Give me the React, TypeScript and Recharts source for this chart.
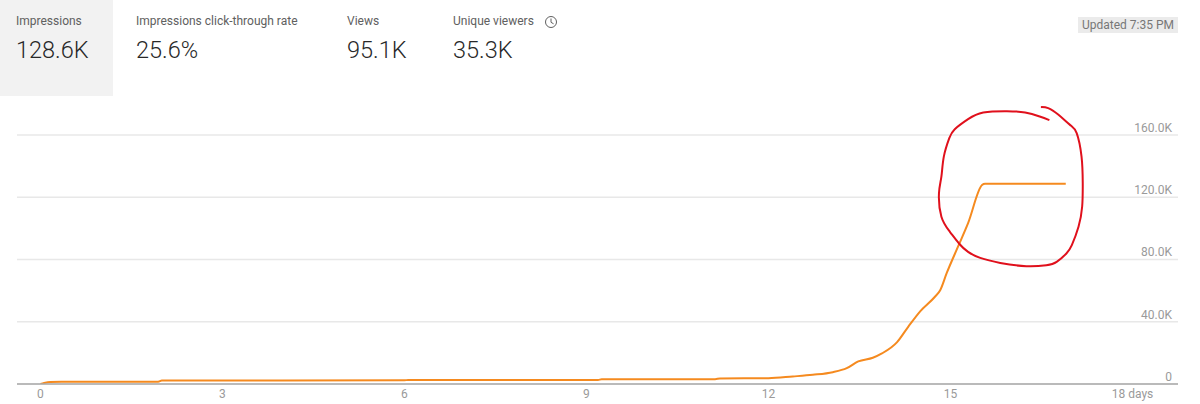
import React from "react";
import { LineChart, Line, XAxis, YAxis, CartesianGrid } from "recharts";

const days = [0, 0.06, 0.16, 0.35, 1.94, 2.0, 6.0, 6.06, 9.19, 9.25, 11.12, 11.2, 12, 12.4, 12.73, 13.06, 13.29, 13.48, 13.72, 13.87, 14.12, 14.3, 14.5, 14.74, 14.83, 14.94, 15.12, 15.29, 15.52, 15.57, 16.9];
const impressions = [0, 640, 1290, 1420, 1480, 2250, 2400, 2580, 2600, 3030, 3100, 3540, 3700, 4830, 5920, 7600, 10170, 14490, 16870, 19640, 26900, 36570, 46680, 55900, 60200, 71470, 87900, 103340, 127800, 128600, 128600];

const circleDays = [16.63, 16.47, 16.23, 15.93, 15.54, 15.29, 15.07, 14.98, 14.89, 14.85, 14.81, 14.85, 14.99, 15.14, 15.29, 15.49, 15.82, 16.25, 16.58, 16.75, 16.91, 17.0, 17.11, 17.17, 17.18, 17.16, 17.08, 16.97, 16.78, 16.61, 16.49];
const circleValues = [169470, 171800, 174370, 175270, 174370, 170120, 163680, 157880, 146040, 133160, 122470, 107400, 97740, 90270, 84870, 81000, 77780, 75660, 76300, 78430, 83830, 89180, 100960, 113840, 128900, 146040, 161100, 166450, 172890, 177200, 177850];

const xTicks = [0, 3, 6, 9, 12, 15, 18];
const yTicks = [0, 40000, 80000, 120000, 160000];
const yLabels = ["0", "40.0K", "80.0K", "120.0K", "160.0K"];

const metricLabels = ["Impressions", "Impressions click-through rate", "Views", "Unique viewers"];
const metricValues = ["128.6K", "25.6%", "95.1K", "35.3K"];
const metricLefts = [16, 136, 347, 453];
const updatedText = "Updated 7:35 PM";

const lineData = days.map((day, i) => ({ day, impressions: impressions[i] }));
const circleData = circleDays.map((day, i) => ({ day, circle: circleValues[i] }));

const FONT = "Roboto, sans-serif";

const YTick = (props: any) => {
  const { x, y, payload } = props;
  const i = yTicks.indexOf(payload.value);
  return (
    <text x={x + 2} y={y - 7} textAnchor="end" dominantBaseline="central" fontFamily={FONT} fontSize={12} fill="#9a9a9a">
      {yLabels[i]}
    </text>
  );
};

const XTick = (props: any) => {
  const { x, payload } = props;
  return (
    <text x={x} y={393.5} textAnchor="middle" dominantBaseline="central" fontFamily={FONT} fontSize={12} fill="#9a9a9a">
      {payload.value === 18 ? "18 days" : payload.value}
    </text>
  );
};

export default function App() {
  return (
    <div style={{ position: "absolute", left: 0, top: 0, width: 1200, height: 404, background: "#fff", overflow: "hidden", fontFamily: FONT }}>
      <div style={{ position: "absolute", left: 0, top: 0, width: 113, height: 96, background: "#f2f2f2" }} />
      {metricLabels.map((label, i) => (
        <div key={label}>
          <div style={{ position: "absolute", left: metricLefts[i], top: 14, fontSize: 12, lineHeight: "14px", color: "#606060", whiteSpace: "nowrap" }}>
            {label}
          </div>
          <div style={{ position: "absolute", left: metricLefts[i], top: 35, fontSize: 23.5, fontWeight: 300, lineHeight: "30px", color: "#282828", whiteSpace: "nowrap" }}>
            {metricValues[i]}
          </div>
        </div>
      ))}
      <svg style={{ position: "absolute", left: 544, top: 15 }} width={14} height={14} viewBox="0 0 14 14">
        <circle cx={7} cy={7} r={5.5} fill="none" stroke="#606060" strokeWidth={1} />
        <path d="M7 3.5V7.3L9.6 8.8" fill="none" stroke="#606060" strokeWidth={1} />
      </svg>
      <div style={{ position: "absolute", left: 1078, top: 17, width: 100, height: 16, background: "#ebebeb", fontSize: 12, lineHeight: "16px", color: "#777", textAlign: "center", whiteSpace: "nowrap" }}>
        {updatedText}
      </div>
      <div style={{ position: "absolute", left: 0, top: 0 }}>
        <LineChart width={1200} height={404} data={lineData} margin={{ top: 96, right: 22, bottom: 0, left: 17 }}>
          <CartesianGrid vertical={false} horizontalValues={yTicks} stroke="#e8e8e8" strokeWidth={1.5} />
          <XAxis
            dataKey="day"
            type="number"
            domain={[-0.387, 18.75]}
            ticks={xTicks}
            allowDataOverflow
            height={20}
            interval={0}
            tickLine={false}
            axisLine={{ stroke: "#a8a8a8", strokeWidth: 1.5 }}
            tick={<XTick />}
          />
          <YAxis
            type="number"
            orientation="right"
            mirror
            domain={[0, 185000]}
            ticks={yTicks}
            allowDataOverflow
            interval={0}
            tickLine={false}
            axisLine={false}
            tick={<YTick />}
          />
          <Line dataKey="impressions" type="monotoneX" stroke="#f58a1f" strokeWidth={2} dot={false} activeDot={false} isAnimationActive={false} />
          <Line data={circleData} dataKey="circle" type="natural" stroke="#e0101c" strokeWidth={2} dot={false} activeDot={false} isAnimationActive={false} />
        </LineChart>
      </div>
    </div>
  );
}
